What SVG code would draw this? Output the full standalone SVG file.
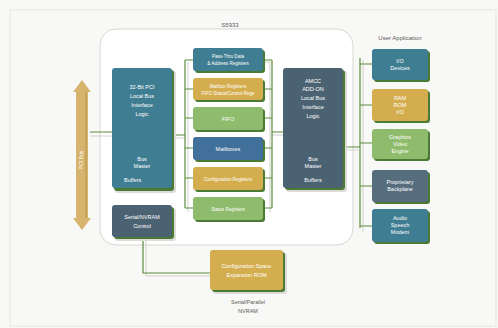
<svg xmlns="http://www.w3.org/2000/svg" width="498" height="328" viewBox="0 0 498 328">
<defs>
<style>
.bg{fill:#f8f8f6}
.frame{fill:none;stroke:#e4e4e0;stroke-width:1}
.chip{fill:#ffffff;stroke:#d6d6d2;stroke-width:1}
.sh{fill:#4a7a34}
.sh2{fill:#dcdcd8}
.blue{fill:#3f7d92}
.mbox{fill:#41709a}
.slate{fill:#4b6272}
.slate2{fill:#566d7e}
.yel{fill:#d4ae4e}
.grn{fill:#8fbb6c}
.t{font-family:"Liberation Sans",Arial,sans-serif;font-size:5.5px;fill:#ffffff;text-anchor:middle}
.ts{font-size:4.6px}
.tl{font-family:"Liberation Sans",Arial,sans-serif;font-size:5.5px;fill:#ffffff}
.lbl{font-family:"Liberation Sans",Arial,sans-serif;font-size:6px;fill:#5a5a5a;text-anchor:middle}
.w{fill:none;stroke:#5d8c3f;stroke-width:1.2}
.ws{fill:none;stroke:#d0d0cc;stroke-width:1}
</style>
</defs>
<rect class="bg" x="0" y="0" width="498" height="328"/>
<rect class="frame" x="10" y="10" width="486" height="316"/>
<g id="chip">
<rect class="chip" x="100" y="29" width="253" height="216" rx="16"/>
<text class="lbl" x="230" y="27">S5933</text>
</g>
<text class="lbl" x="400" y="40">User Application</text>

<g id="connectors">
<path class="ws" d="M90,136H112 M173,138H186 M188,62V212 M263,62H270 M270,62V212 M283,135H272 M343,150H358 M363,60V232 M146,240V276H210"/>
<path class="w" d="M90,132H112 M173,135H185 M185,60V208 M185,60H193 M185,89H193 M185,118H193 M185,148H193 M185,178H193 M185,208H193 M263,60H272 M263,89H272 M263,118H272 M263,148H272 M263,178H272 M263,208H272 M272,60V208 M272,132H283 M343,147H360 M360,58V228 M360,64H372 M360,105H372 M360,143H372 M360,186H372 M360,226H372 M143,238V273H210"/>
</g>

<g id="pci-bus">
<path d="M82,80L91,92H88V218H91L82,230L73,218H76V92H73Z" fill="#d7b46e"/>
<path d="M86,92V218" stroke="#b8934a" stroke-width="1" fill="none"/>
<text class="t" transform="translate(83,160) rotate(-90)" style="font-size:5px">PCI Bus</text>
</g>

<g id="pci-logic">
<rect class="sh2" x="115" y="71" width="61" height="122" rx="3"/>
<rect class="sh" x="114" y="70" width="60" height="121" rx="3"/>
<rect class="blue" x="112" y="68" width="60" height="120" rx="3"/>
<text class="t" x="142" y="89">32-Bit PCI</text>
<text class="t" x="142" y="98">Local Bus</text>
<text class="t" x="142" y="107">Interface</text>
<text class="t" x="142" y="116">Logic</text>
<text class="t" x="142" y="161">Bus</text>
<text class="t" x="142" y="168">Master</text>
<text class="tl" x="124" y="182">Buffers</text>
</g>

<g id="nvram-control">
<rect class="sh2" x="115" y="208" width="61" height="33" rx="3"/>
<rect class="sh" x="114" y="207" width="60" height="32" rx="3"/>
<rect class="slate" x="112" y="205" width="60" height="32" rx="3"/>
<text class="t" x="142" y="219">Serial/NVRAM</text>
<text class="t" x="142" y="228">Control</text>
</g>

<g id="passthru">
<rect class="sh" x="195" y="50" width="70" height="23" rx="3"/>
<rect class="blue" x="193" y="48" width="70" height="23" rx="3"/>
<text class="t ts" x="228" y="58">Pass-Thru Data</text>
<text class="t ts" x="228" y="65">&amp; Address Registers</text>
</g>
<g id="mailbox-regs">
<rect class="sh" x="195" y="80" width="70" height="22" rx="3"/>
<rect class="yel" x="193" y="78" width="70" height="22" rx="3"/>
<text class="t ts" x="228" y="88">Mailbox Registers</text>
<text class="t ts" x="228" y="95">FIFO Status/Control Regs</text>
</g>
<g id="fifo">
<rect class="sh" x="195" y="109" width="70" height="23" rx="3"/>
<rect class="grn" x="193" y="107" width="70" height="23" rx="3"/>
<text class="t" x="228" y="120.5">FIFO</text>
</g>
<g id="mailboxes">
<rect class="sh" x="195" y="139" width="70" height="23" rx="3"/>
<rect class="mbox" x="193" y="137" width="70" height="23" rx="3"/>
<text class="t" x="228" y="150.5">Mailboxes</text>
</g>
<g id="config-regs">
<rect class="sh" x="195" y="169" width="70" height="23" rx="3"/>
<rect class="yel" x="193" y="167" width="70" height="23" rx="3"/>
<text class="t ts" x="228" y="180.5">Configuration Registers</text>
</g>
<g id="status-regs">
<rect class="sh" x="195" y="199" width="70" height="23" rx="3"/>
<rect class="grn" x="193" y="197" width="70" height="23" rx="3"/>
<text class="t ts" x="228" y="210.5">Status Registers</text>
</g>

<g id="addon-logic">
<rect class="sh2" x="286" y="71" width="61" height="121" rx="3"/>
<rect class="sh" x="285" y="70" width="60" height="120" rx="3"/>
<rect class="slate" x="283" y="68" width="60" height="120" rx="3"/>
<text class="t" x="313" y="83">AMCC</text>
<text class="t" x="313" y="91">ADD-ON</text>
<text class="t" x="313" y="100">Local Bus</text>
<text class="t" x="313" y="109">Interface</text>
<text class="t" x="313" y="118">Logic</text>
<text class="t" x="313" y="161">Bus</text>
<text class="t" x="313" y="168">Master</text>
<text class="t" x="313" y="182">Buffers</text>
</g>

<g id="ua-io">
<rect class="sh" x="374" y="51" width="56" height="31" rx="3"/>
<rect class="blue" x="372" y="49" width="56" height="31" rx="3"/>
<text class="t" x="400" y="63">I/O</text>
<text class="t" x="400" y="70">Devices</text>
</g>
<g id="ua-mem">
<rect class="sh" x="374" y="91" width="56" height="32" rx="3"/>
<rect class="yel" x="372" y="89" width="56" height="32" rx="3"/>
<text class="t" x="400" y="100">RAM</text>
<text class="t" x="400" y="107">ROM</text>
<text class="t" x="400" y="114">I/O</text>
</g>
<g id="ua-graphics">
<rect class="sh" x="374" y="131" width="56" height="30" rx="3"/>
<rect class="grn" x="372" y="129" width="56" height="30" rx="3"/>
<text class="t" x="400" y="139">Graphics</text>
<text class="t" x="400" y="146">Video</text>
<text class="t" x="400" y="153">Engine</text>
</g>
<g id="ua-backplane">
<rect class="sh" x="374" y="172" width="56" height="32" rx="3"/>
<rect class="slate2" x="372" y="170" width="56" height="32" rx="3"/>
<text class="t" x="400" y="184">Proprietary</text>
<text class="t" x="400" y="191">Backplane</text>
</g>
<g id="ua-audio">
<rect class="sh" x="374" y="211" width="56" height="33" rx="3"/>
<rect class="blue" x="372" y="209" width="56" height="33" rx="3"/>
<text class="t" x="400" y="220">Audio</text>
<text class="t" x="400" y="227">Speech</text>
<text class="t" x="400" y="234">Modem</text>
</g>

<g id="expansion-rom">
<rect class="sh2" x="213" y="253" width="74" height="41" rx="3"/>
<rect class="sh" x="212" y="252" width="73" height="40" rx="3"/>
<rect class="yel" x="210" y="250" width="73" height="40" rx="3"/>
<text class="t" x="246.5" y="268">Configuration Space</text>
<text class="t" x="246.5" y="277">Expansion ROM</text>
<text class="lbl" x="248" y="304" style="font-size:5.5px">Serial/Parallel</text>
<text class="lbl" x="248" y="313" style="font-size:5.5px">NVRAM</text>
</g>
</svg>
